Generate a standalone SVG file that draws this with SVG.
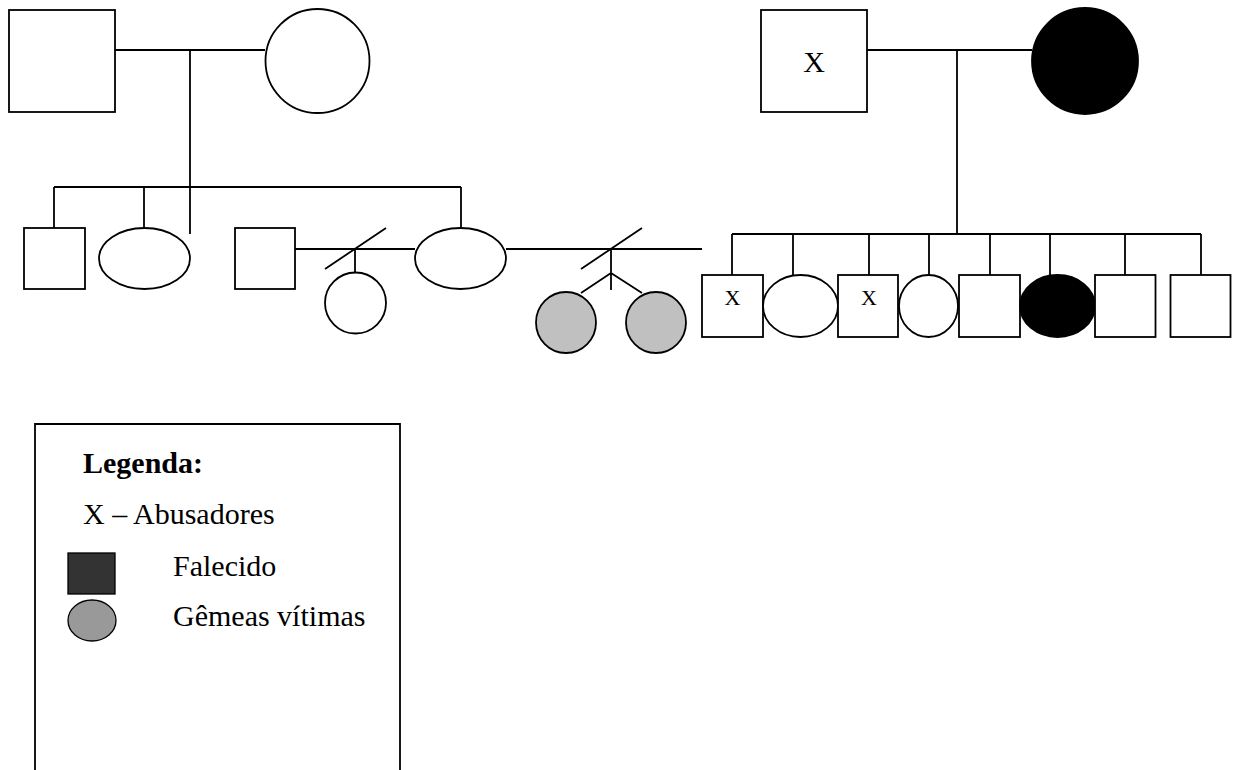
<svg xmlns="http://www.w3.org/2000/svg" width="1240" height="770" viewBox="0 0 1240 770">
<style>
.s{fill:#fff;stroke:#000;stroke-width:1.8}
.b{fill:#000;stroke:#000;stroke-width:1.8}
.g{fill:#c0c0c0;stroke:#000;stroke-width:1.8}
.l{stroke:#000;stroke-width:1.8;fill:none}
.t{font-family:"Liberation Serif","Times New Roman",serif;fill:#000}
</style>
<rect width="1240" height="770" fill="#fff"/>
<g id="connectors">
<path class="l" d="M115 50H265M190 50V234M54 187H461M54 187V228M144 187V228M461 187V228"/>
<path class="l" d="M295 249H415M325 269L386 228M355 249V272"/>
<path class="l" d="M506 249H702M581 269L642 228M611 249V290M611 273L581 293M611 273L642 293"/>
<path class="l" d="M867 50H1032M957 50V234M732 234H1201M732 234V275M793 234V275M869 234V275M929 234V275M990 234V275M1050 234V275M1125 234V275M1201 234V275"/>
</g>
<g id="gf1"><rect class="s" x="9" y="10" width="106" height="102"/></g>
<g id="gm1"><circle class="s" cx="317.5" cy="61" r="52"/></g>
<g id="c1"><rect class="s" x="24" y="228" width="61" height="61"/></g>
<g id="c2"><ellipse class="s" cx="144.5" cy="258.5" rx="45.5" ry="30.5"/></g>
<g id="sp1"><rect class="s" x="235" y="228" width="60" height="61"/></g>
<g id="gc1"><circle class="s" cx="355.5" cy="303" r="30.5"/></g>
<g id="mother"><ellipse class="s" cx="460.5" cy="258.5" rx="45.5" ry="30.5"/></g>
<g id="twin1"><ellipse class="g" cx="566" cy="322.5" rx="30" ry="30.5"/></g>
<g id="twin2"><ellipse class="g" cx="656" cy="322.5" rx="30" ry="30.5"/></g>
<g id="gf2"><rect class="s" x="761" y="10" width="106" height="102"/><text class="t" x="814" y="72" font-size="30" text-anchor="middle">X</text></g>
<g id="gm2"><circle class="b" cx="1085" cy="61" r="53"/></g>
<g id="r1"><rect class="s" x="702" y="275" width="61" height="62"/><text class="t" x="732.5" y="305" font-size="22" text-anchor="middle">X</text></g>
<g id="r2"><ellipse class="s" cx="800.5" cy="306" rx="37.5" ry="31"/></g>
<g id="r3"><rect class="s" x="838" y="275" width="60" height="62"/><text class="t" x="869" y="305" font-size="22" text-anchor="middle">X</text></g>
<g id="r4"><ellipse class="s" cx="928.5" cy="306" rx="29.5" ry="31"/></g>
<g id="r5"><rect class="s" x="959" y="275" width="61" height="62"/></g>
<g id="r6"><ellipse class="b" cx="1057.5" cy="306" rx="37.5" ry="31"/></g>
<g id="r7"><rect class="s" x="1095" y="275" width="60.5" height="62"/></g>
<g id="r8"><rect class="s" x="1170.5" y="275" width="60" height="62"/></g>
<g id="legend">
<path class="l" d="M35 772V424H400V772" stroke-width="1.5"/>
<text class="t" x="83" y="473" font-size="30" font-weight="bold">Legenda:</text>
<text class="t" x="83" y="524" font-size="30">X – Abusadores</text>
<rect x="68" y="553" width="47" height="41" fill="#333" stroke="#000" stroke-width="1.3"/>
<text class="t" x="173" y="576" font-size="30">Falecido</text>
<ellipse cx="92" cy="620.5" rx="24" ry="20.5" fill="#999" stroke="#000" stroke-width="1.3"/>
<text class="t" x="173" y="626" font-size="30">Gêmeas vítimas</text>
</g>
</svg>
